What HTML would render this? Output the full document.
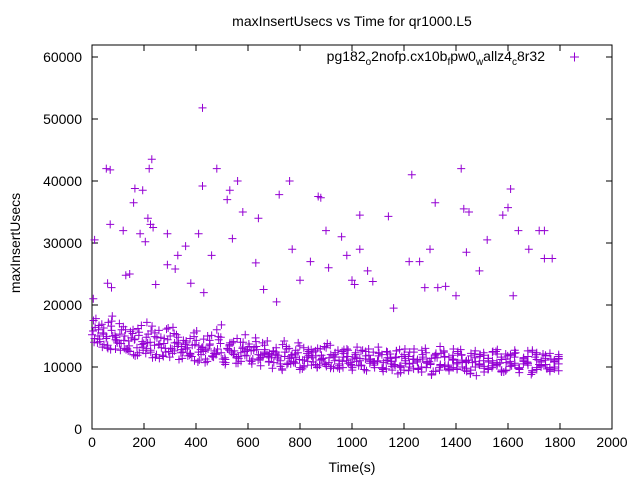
<!DOCTYPE html>
<html><head><meta charset="utf-8"><style>
body{margin:0;background:#fff}
svg text{font-family:"Liberation Sans",sans-serif;font-size:14px;fill:#000}
</style></head><body>
<svg id="chart" width="640" height="480" xmlns="http://www.w3.org/2000/svg">
<text x="352" y="26" text-anchor="middle">maxInsertUsecs vs Time for qr1000.L5</text>
<text x="20" y="243" text-anchor="middle" transform="rotate(-90 20 243)">maxInsertUsecs</text>
<text x="352" y="472" text-anchor="middle">Time(s)</text>
<g id="axes"></g>
<g id="marks"></g>
<g>
<text x="545" y="61" text-anchor="end">pg182<tspan font-size="10" dy="4">o</tspan><tspan dy="-4">2nofp.cx10b</tspan><tspan font-size="10" dy="4">f</tspan><tspan dy="-4">pw0</tspan><tspan font-size="10" dy="4">w</tspan><tspan dy="-4">allz4</tspan><tspan font-size="10" dy="4">c</tspan><tspan dy="-4">8r32</tspan></text>
<path d="M570 57h9M574.5 52.5v9" stroke="#9400d3" stroke-width="1"/>
</g>
</svg>
<script>
const xTicks=[0,200,400,600,800,1000,1200,1400,1600,1800,2000];
const yTicks=[0,10000,20000,30000,40000,50000,60000];
const outT=[5,10,55,60,70,70,75,120,130,145,160,165,185,195,205,215,220,225,230,235,245,290,290,320,330,360,380,410,425,425,430,460,480,520,530,540,560,580,630,640,660,710,720,760,770,800,840,870,880,900,910,960,980,1000,1010,1030,1030,1060,1080,1140,1160,1220,1230,1260,1280,1300,1320,1330,1360,1400,1420,1430,1440,1450,1490,1520,1580,1600,1610,1620,1640,1680,1720,1740,1740,1770];
const outV=[21000,30500,42000,23500,41800,33000,22800,32000,24800,25000,36500,38800,31500,38500,30200,34000,42000,33000,43500,32500,23300,31500,26500,25800,28000,29500,23500,31500,51800,39200,22000,28000,42000,37000,38500,30700,40000,35000,26800,34000,22500,20500,37800,40000,29000,24000,27000,37500,37300,32000,26000,31000,28000,24000,23300,34500,29000,25500,23800,34300,19500,27000,41000,27000,22800,29000,36500,22800,23000,21500,42000,35500,28500,35000,25500,30500,34500,35700,38700,21500,32000,29000,32000,27500,32000,27500];
const bandA=[15.2,17.8,14.1,16.3,13.5,15.9,14.4,13.8,16.5,12.9,14.7,11.8,15.6,13.2,17.2,12.4,14.9,13.6,11.9,16.1,13.0,12.6,14.8,11.4,13.9,12.2,15.5,10.8,13.1,12.7,14.3,11.6,12.9,16.8,11.2,13.4,12.1,14.6,10.9,12.5,13.7,11.3,12.8,10.2,13.5,11.7,9.8,12.4,11.0,14.2,10.6,12.0,11.5,9.6,13.1,10.9,11.8,12.6,10.3,11.4,13.8,10.1,12.3,11.1,9.9,12.9,10.7,11.6,10.2,12.7,9.4,11.3,10.8,13.2,9.9,11.0,12.1,10.4,8.9,11.7,10.6,12.4,9.7,11.2,10.0,13.0,10.9,9.3,11.5,12.2,10.3,9.8,11.9,10.5,12.8,9.5,11.1,10.7,8.6,12.0,10.1,11.4,9.9,12.5,10.6,9.2,11.8,10.2,12.3,9.6,11.0,10.8,8.8,11.6,10.4,12.1,9.7,11.3,10.0,9.4];
const bandB=[15.8,13.9,16.9,14.6,12.8,15.1,17.0,14.3,12.6,15.4,13.1,16.7,12.2,14.0,13.5,15.9,11.7,14.4,12.9,15.2,12.3,13.6,11.9,14.9,12.4,13.2,10.9,15.1,12.0,13.8,11.5,12.7,14.1,10.6,13.0,11.8,12.6,14.7,11.3,12.2,10.8,12.5,11.6,9.7,13.3,10.5,12.1,11.2,10.0,12.8,11.5,9.9,11.9,10.4,13.5,11.0,10.2,12.2,11.7,9.5,10.9,12.6,11.3,10.6,10.3,11.8,9.6,12.4,10.9,11.5,9.1,12.9,10.5,11.2,9.8,12.0,10.7,11.4,9.3,13.3,10.1,11.6,9.9,12.2,10.8,11.0,9.5,12.6,10.3,11.9,9.7,10.6,12.1,9.2,11.3,10.5,12.7,9.8,10.9,11.7,9.4,12.3,10.2,11.1,9.6,10.8,12.0];
const bandC=[14.0,16.0,15.5,13.2,17.4,14.8,12.7,15.0,13.4,12.0,16.2,14.1,13.0,15.8,11.6,13.7,14.6,12.5,16.4,13.3,12.8,14.2,12.1,13.6,11.1,14.5,12.9,11.7,16.0,12.3,10.7,13.9,12.6,11.4,14.0,12.8,10.5,13.3,11.9,12.4,12.2,10.7,11.9,13.6,10.4,11.5,12.7,9.9,11.1,12.5,10.8,13.0,11.4,10.1,12.0,11.6,9.7,12.8,10.6,11.3,13.2,10.2,11.8,10.9,9.9,12.3,10.7,11.1,9.5,12.6,10.2,11.4,10.0,12.9,9.7,11.6,10.6,8.9,12.2,10.4,11.7,9.6,11.2,12.5,10.0,9.3,11.8,10.9,12.0,9.8,11.4,10.2,12.8,9.5,10.7,11.9,10.3,9.1,11.5,10.6,12.4,9.9,11.0,10.4,12.2,9.7,11.3];
const bandD=[16.4,14.5,13.6,17.2,15.0,13.9,16.0,12.8,15.7,14.5,12.3,13.8,15.3,11.5,14.7,13.1,12.4,15.0,13.9,11.2,14.3,11.8,13.5,15.8,12.0,11.3,13.7,12.6,14.4,10.8,12.9,13.9,11.5,12.3,15.2,11.0,13.1,12.0,11.6,14.2,11.9,13.1,10.1,12.4,11.4,10.7,13.9,11.1,12.2,10.3,11.8,12.9,10.6,11.5,9.8,12.7,10.9,11.7,10.4,12.3,11.0,9.6,11.9,12.4,11.0,9.8,12.5,10.5,11.6,10.1,12.0,9.4,11.3,10.8,12.7,9.9,10.6,11.8,9.5,12.4,10.3,11.1,9.7,12.0,10.9,9.0,11.5,10.4,12.3,9.6,11.0,10.7,9.3,12.1,10.1,11.6,9.8,10.5,12.6,9.4,11.2,10.0,11.8,9.5,10.9,11.4];
const bandE=[17.5,15.0,13.2,14.9,16.6,12.9,15.3,13.0,14.2,16.0,11.9,13.6,14.8,12.7,15.5,11.4,13.8,16.3,12.2,14.0,13.3,12.9,14.6,11.0,13.4,12.5,15.0,11.8,12.2,14.8,10.4,13.6,12.0,11.7,13.2,12.6,10.9,14.1,11.5,12.8,10.9,12.6,11.3,9.5,12.9,11.8,10.6,13.4,10.2,11.9,12.4,10.0,11.2,13.1,9.8,12.0,10.5,11.6,12.7,9.9,11.4,10.3,12.5,11.1,10.6,12.2,9.3,11.5,10.1,12.6,9.9,11.0,10.5,12.4,9.6,11.3,10.9,8.7,12.0,10.2,11.6,9.4,12.9,10.7,11.1,9.8,12.2,10.0,11.7,9.2,10.8,12.5,10.4,11.2,9.5,12.0,10.6,9.9,11.5,10.3,12.7,9.6,10.8,11.9,9.3,11.1,10.5];
const bandF=[14.6,16.7,15.3,13.0,18.2,14.2,13.8,16.0,12.5,14.4,15.1,12.7,13.9,16.6,12.0,14.8,13.0,11.6,15.4,13.7,12.4,13.1,11.7,14.3,12.8,10.7,13.5,12.2,14.9,11.3,13.0,12.4,10.6,14.0,11.9,13.3,12.7,11.1,13.9,12.0,11.5,12.1,10.5,11.7,13.0,10.9,12.3,9.7,11.6,12.8,10.4,11.1,13.3,10.7,11.8,9.9,12.5,11.0,10.2,12.0,11.4,9.6,12.9,10.8,10.9,12.0,9.7,11.4,10.3,12.8,9.5,11.7,10.6,11.0,9.2,12.3,10.4,11.5,9.9,12.6,10.1,11.3,9.6,11.9,10.7,8.9,12.1,10.5,11.0,9.7,12.4,10.2,11.6,9.4,10.9,12.2,9.8,11.3,10.6,9.1,12.0,10.3,11.4,9.9,10.8,11.7];
const X0=92,X1=612,Y0=429,Y1=57;
function sx(t){return X0+(t-0)/2000*(X1-X0);}
function sy(v){return Y0-(v/60000)*(Y0-Y1);}
const NS="http://www.w3.org/2000/svg";
const axes=document.getElementById('axes'),marks=document.getElementById('marks');
function mk(tag,attrs,parent){const e=document.createElementNS(NS,tag);for(const k in attrs)e.setAttribute(k,attrs[k]);parent.appendChild(e);return e;}
const frame=mk('rect',{x:X0,y:45,width:X1-X0,height:Y0-45,fill:'none',stroke:'#000','stroke-width':1},axes);


xTicks.forEach(t=>{const x=sx(t);
 const l=mk('path',{d:`M${x} ${Y0}v-6M${x} 45v6`,stroke:'#000'},axes);
 
 
 const tx=mk('text',{x:x,y:447,'text-anchor':'middle'},axes);tx.textContent=t;
 
 });
yTicks.forEach(v=>{const y=sy(v);
 const l=mk('path',{d:`M${X0} ${y}h6M${X1} ${y}h-6`,stroke:'#000'},axes);
 
 
 const tx=mk('text',{x:82,y:y+5,'text-anchor':'end'},axes);tx.textContent=v;
 
 });
function cross(t,v){const x=sx(t),y=sy(v);
 const p=mk('path',{d:`M${x-4} ${y}h8M${x} ${y-4}v8`,stroke:'#9400d3','stroke-width':1},marks);
 
 }
const T_END=1795;
[[bandA,0],[bandB,4],[bandC,8],[bandD,12],[bandE,6],[bandF,10]].forEach(([arr,off])=>{
 const step=(T_END-off)/(arr.length-1);
 arr.forEach((v,i)=>cross(off+i*step,v*1000));});
outT.forEach((t,i)=>cross(t,outV[i]));
</script>
</body></html>
